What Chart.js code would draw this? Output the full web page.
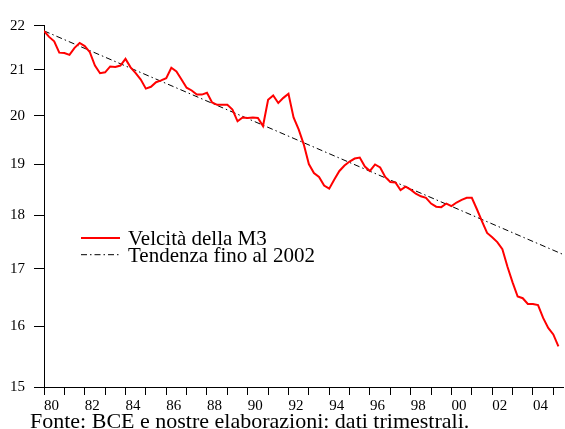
<!DOCTYPE html>
<html>
<head>
<meta charset="utf-8">
<script src="https://cdn.jsdelivr.net/npm/chart.js@4.4.1/dist/chart.umd.min.js"></script>
<style>
  html, body { margin: 0; padding: 0; background: #fff; }
</style>
</head>
<body>
<canvas id="velocita" width="565" height="429"></canvas>
<script>
// dati trimestrali, dal 1980 T1 al 2005 T2
var startYear = 1980;
var velocita = [
  21.88, 21.74, 21.64, 21.38,
  21.37, 21.33, 21.49, 21.60,
  21.53, 21.39, 21.09, 20.92,
  20.94, 21.07, 21.06, 21.09,
  21.24, 21.05, 20.92, 20.78,
  20.58, 20.62, 20.72, 20.76,
  20.81, 21.04, 20.96, 20.78,
  20.60, 20.54, 20.45, 20.45,
  20.49, 20.28, 20.23, 20.23,
  20.23, 20.13, 19.88, 19.96,
  19.95, 19.96, 19.95, 19.78,
  20.34, 20.43, 20.27, 20.38,
  20.47, 19.96, 19.71, 19.40,
  19.00, 18.82, 18.74, 18.57,
  18.51, 18.69, 18.86, 18.97,
  19.05, 19.11, 19.13, 18.95,
  18.86, 18.99, 18.93, 18.74,
  18.64, 18.63, 18.48, 18.55,
  18.49, 18.41, 18.36, 18.33,
  18.22, 18.16, 18.15, 18.22,
  18.17, 18.24, 18.29, 18.33,
  18.33, 18.11, 17.88, 17.66,
  17.58, 17.49, 17.36, 17.04,
  16.76, 16.51, 16.48, 16.38,
  16.38, 16.36, 16.14, 15.97,
  15.86, 15.66
];
var trendX = [1980, 2005.5];
var trendY = [21.88, 17.26];
var yTicks = [15, 16, 17, 18, 19, 20, 21, 22];
var yearTicks = [];
for (var a = 1980; a <= 2005; a++) yearTicks.push(a);
var quarters = velocita.map(function (v, i) { return startYear + i / 4; });
var legendLabels = ['Velcità della M3', 'Tendenza fino al 2002'];
var footer = 'Fonte: BCE e nostre elaborazioni: dati trimestrali.';

var serif = 'Liberation Serif';

// legenda dentro il grafico e nota della fonte
var extraText = {
  id: 'extraText',
  afterDraw: function (chart) {
    var c = chart.ctx;
    c.save();
    chart.data.datasets.forEach(function (ds, i) {
      var y = 238 + i * 16.7;
      c.strokeStyle = ds.borderColor;
      c.lineWidth = ds.borderWidth;
      c.setLineDash(ds.borderDash || []);
      c.beginPath();
      c.moveTo(81, y);
      c.lineTo(120, y);
      c.stroke();
      c.setLineDash([]);
      c.fillStyle = '#000';
      c.font = '21px "' + serif + '"';
      c.textBaseline = 'alphabetic';
      c.fillText(ds.label, 128, y + 7.3);
    });
    c.font = '22px "' + serif + '"';
    c.fillText(footer, 30, 427.5);
    c.restore();
  }
};

var ctx = document.getElementById('velocita').getContext('2d');
var chart = new Chart(ctx, {
  type: 'line',
  data: {
    datasets: [{
      label: legendLabels[0],
      data: velocita.map(function (v, i) { return { x: quarters[i], y: v }; }),
      borderColor: '#ff0000',
      borderWidth: 2,
      pointRadius: 0,
      tension: 0,
      fill: false
    }, {
      label: legendLabels[1],
      data: trendX.map(function (x, i) { return { x: x, y: trendY[i] }; }),
      borderColor: '#000000',
      borderWidth: 1,
      borderDash: [6, 3, 1.5, 3],
      pointRadius: 0,
      fill: false
    }]
  },
  options: {
    responsive: false,
    animation: false,
    layout: { padding: { left: 1, right: 1.5, top: 25.7, bottom: 12 } },
    plugins: {
      legend: { display: false },
      tooltip: { enabled: false }
    },
    scales: {
      x: {
        type: 'linear',
        min: 1980,
        max: 2005.5,
        afterBuildTicks: function (s) {
          s.ticks = yearTicks.map(function (v) { return { value: v }; });
        },
        ticks: {
          autoSkip: false,
          maxRotation: 0,
          align: 'start',
          padding: 2,
          color: '#000',
          font: { family: serif, size: 15 },
          callback: function (v) { return v % 2 === 0 ? String(v).slice(2) : ''; }
        },
        grid: { drawOnChartArea: false, tickLength: 8, color: '#000' },
        border: { color: '#000', width: 1 }
      },
      y: {
        type: 'logarithmic',
        min: 15,
        max: 22,
        afterBuildTicks: function (s) {
          s.ticks = yTicks.map(function (v) { return { value: v }; });
        },
        ticks: {
          padding: 9,
          color: '#000',
          font: { family: serif, size: 15 },
          callback: function (v) { return String(v); }
        },
        grid: { drawOnChartArea: false, tickLength: 10, color: '#000' },
        border: { color: '#000', width: 1 }
      }
    }
  },
  plugins: [extraText]
});
</script>
</body>
</html>
